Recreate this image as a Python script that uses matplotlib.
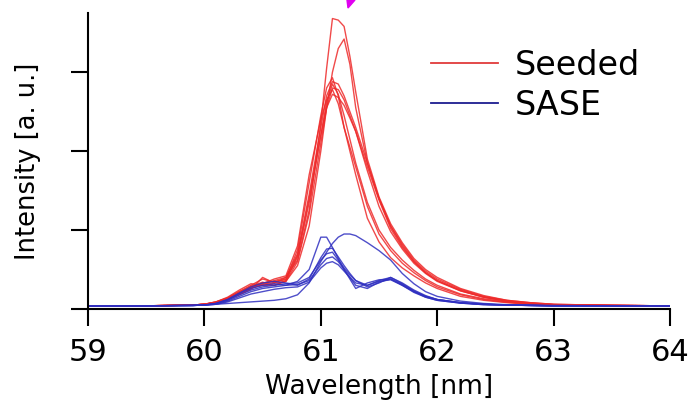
import matplotlib
matplotlib.use("Agg")
import matplotlib.pyplot as plt
from matplotlib.lines import Line2D
from matplotlib.patches import Polygon

# Shared wavelength grid (nm)
wavelength = [59.0, 59.5, 59.9, 60.0, 60.1, 60.2, 60.3, 60.4, 60.5, 60.6, 60.7,
              60.8, 60.9, 61.0, 61.05, 61.1, 61.15, 61.2, 61.25, 61.3, 61.4,
              61.5, 61.6, 61.7, 61.8, 61.9, 62.0, 62.2, 62.4, 62.6, 62.8,
              63.0, 63.5, 64.0]

# Seeded shots (intensity, a.u.)
seeded_1 = [0.04, 0.04, 0.05, 0.06, 0.09, 0.15, 0.24, 0.32, 0.30, 0.33, 0.40,
            0.62, 1.25, 2.35, 3.05, 3.68, 3.66, 3.58, 3.20, 2.75, 1.90,
            1.42, 1.08, 0.84, 0.64, 0.50, 0.40, 0.26, 0.17, 0.11, 0.08,
            0.06, 0.045, 0.04]
seeded_2 = [0.04, 0.04, 0.05, 0.06, 0.08, 0.13, 0.20, 0.27, 0.30, 0.30, 0.35,
            0.55, 1.05, 2.00, 2.55, 3.00, 3.30, 3.42, 3.10, 2.55, 1.85,
            1.40, 1.05, 0.80, 0.60, 0.46, 0.36, 0.23, 0.15, 0.10, 0.07,
            0.055, 0.045, 0.04]
seeded_3 = [0.04, 0.04, 0.05, 0.06, 0.09, 0.14, 0.22, 0.30, 0.38, 0.34, 0.38,
            0.75, 1.60, 2.45, 2.80, 2.93, 2.70, 2.30, 2.00, 1.70, 1.15,
            0.85, 0.65, 0.52, 0.42, 0.33, 0.26, 0.16, 0.11, 0.08, 0.06,
            0.05, 0.045, 0.04]
seeded_4 = [0.04, 0.04, 0.05, 0.06, 0.08, 0.12, 0.19, 0.26, 0.31, 0.36, 0.40,
            0.70, 1.45, 2.30, 2.70, 2.88, 2.85, 2.70, 2.50, 2.30, 1.85,
            1.40, 1.05, 0.82, 0.62, 0.48, 0.38, 0.25, 0.16, 0.11, 0.08,
            0.06, 0.045, 0.04]
seeded_5 = [0.04, 0.04, 0.05, 0.06, 0.08, 0.13, 0.21, 0.29, 0.34, 0.30, 0.36,
            0.66, 1.35, 2.20, 2.62, 2.85, 2.72, 2.45, 2.15, 1.85, 1.35,
            1.00, 0.78, 0.62, 0.49, 0.38, 0.30, 0.19, 0.13, 0.09, 0.065,
            0.05, 0.045, 0.04]
seeded_6 = [0.04, 0.04, 0.05, 0.06, 0.08, 0.12, 0.18, 0.25, 0.40, 0.33, 0.35,
            0.60, 1.20, 2.10, 2.55, 2.80, 2.78, 2.65, 2.45, 2.25, 1.75,
            1.30, 0.98, 0.76, 0.58, 0.45, 0.35, 0.23, 0.15, 0.10, 0.07,
            0.055, 0.045, 0.04]
seeded_7 = [0.04, 0.04, 0.05, 0.06, 0.09, 0.14, 0.22, 0.28, 0.32, 0.38, 0.42,
            0.80, 1.70, 2.40, 2.65, 2.78, 2.60, 2.30, 2.05, 1.80, 1.30,
            0.95, 0.74, 0.58, 0.46, 0.36, 0.28, 0.18, 0.12, 0.085, 0.065,
            0.05, 0.045, 0.04]
seeded_8 = [0.04, 0.04, 0.05, 0.06, 0.08, 0.12, 0.19, 0.27, 0.33, 0.35, 0.37,
            0.68, 1.40, 2.20, 2.55, 2.72, 2.68, 2.58, 2.42, 2.25, 1.80,
            1.38, 1.02, 0.78, 0.60, 0.46, 0.36, 0.24, 0.15, 0.10, 0.075,
            0.055, 0.045, 0.04]

# SASE shots (intensity, a.u.)
sase_1 = [0.04, 0.04, 0.045, 0.05, 0.07, 0.12, 0.20, 0.26, 0.30, 0.32, 0.30,
          0.35, 0.50, 0.91, 0.91, 0.78, 0.64, 0.50, 0.38, 0.26, 0.33,
          0.37, 0.38, 0.30, 0.22, 0.16, 0.12, 0.08, 0.06, 0.05, 0.045,
          0.04, 0.04, 0.04]
sase_2 = [0.04, 0.04, 0.045, 0.05, 0.06, 0.07, 0.08, 0.09, 0.10, 0.11, 0.13,
          0.18, 0.33, 0.60, 0.72, 0.83, 0.91, 0.95, 0.95, 0.93, 0.84,
          0.74, 0.62, 0.45, 0.32, 0.22, 0.16, 0.10, 0.07, 0.055, 0.05,
          0.045, 0.04, 0.04]
sase_3 = [0.04, 0.04, 0.045, 0.05, 0.07, 0.12, 0.20, 0.28, 0.33, 0.35, 0.33,
          0.30, 0.38, 0.65, 0.76, 0.77, 0.66, 0.55, 0.45, 0.36, 0.28,
          0.33, 0.40, 0.33, 0.24, 0.17, 0.12, 0.08, 0.06, 0.05, 0.045,
          0.04, 0.04, 0.04]
sase_4 = [0.04, 0.04, 0.045, 0.05, 0.07, 0.11, 0.18, 0.24, 0.28, 0.30, 0.32,
          0.33, 0.40, 0.62, 0.70, 0.72, 0.62, 0.52, 0.43, 0.36, 0.30,
          0.36, 0.40, 0.32, 0.23, 0.16, 0.12, 0.08, 0.06, 0.05, 0.045,
          0.04, 0.04, 0.04]
sase_5 = [0.04, 0.04, 0.045, 0.05, 0.06, 0.10, 0.16, 0.22, 0.26, 0.28, 0.30,
          0.31, 0.36, 0.56, 0.64, 0.66, 0.60, 0.50, 0.40, 0.30, 0.26,
          0.34, 0.38, 0.31, 0.22, 0.15, 0.11, 0.075, 0.055, 0.05, 0.045,
          0.04, 0.04, 0.04]
sase_6 = [0.04, 0.04, 0.045, 0.05, 0.06, 0.09, 0.14, 0.19, 0.22, 0.25, 0.27,
          0.28, 0.34, 0.52, 0.58, 0.60, 0.56, 0.48, 0.40, 0.33, 0.30,
          0.35, 0.37, 0.30, 0.21, 0.15, 0.11, 0.075, 0.055, 0.05, 0.045,
          0.04, 0.04, 0.04]

seeded_shots = [seeded_1, seeded_2, seeded_3, seeded_4, seeded_5, seeded_6,
                seeded_7, seeded_8]
sase_shots = [sase_1, sase_2, sase_3, sase_4, sase_5, sase_6]

x_ticks = [59, 60, 61, 62, 63, 64]
y_ticks = [0, 1, 2, 3]

W, H = 688, 408
fig = plt.figure(figsize=(W / 100, H / 100), dpi=100)
ax = fig.add_axes([88 / W, (H - 309) / H, (670 - 88) / W, (309 - 13) / H])

red = "#ee2a2a"
blue = "#2f2fc0"
for shot in seeded_shots:
    ax.plot(wavelength, shot, color=red, lw=1.0, alpha=0.85)
for shot in sase_shots:
    ax.plot(wavelength, shot, color=blue, lw=1.0, alpha=0.85)

ax.set_xlim(59, 64)
ax.set_ylim(0, 3.75)
ax.set_xticks(x_ticks)
ax.set_xticklabels([str(t) for t in x_ticks])
ax.set_yticks(y_ticks)
ax.set_yticklabels([])
for side in ("top", "right"):
    ax.spines[side].set_visible(False)
for side in ("left", "bottom"):
    ax.spines[side].set_linewidth(1.5)
ax.tick_params(axis="x", direction="out", length=12, width=1.5,
               labelsize=22, pad=9)
ax.tick_params(axis="y", direction="out", length=12, width=1.5)

ax.set_xlabel("Wavelength [nm]", fontsize=19, labelpad=5)
ax.set_ylabel("Intensity [a. u.]", fontsize=18.5, labelpad=18)

handles = [Line2D([], [], color="#e03a3a", lw=1.3),
           Line2D([], [], color="#1c1c90", lw=1.3)]
ax.legend(handles, ["Seeded", "SASE"], loc="upper left",
          bbox_to_anchor=(431 / W, 1 - 49 / H), bbox_transform=fig.transFigure,
          frameon=False, fontsize=24, handlelength=2.0, handletextpad=0.5,
          labelspacing=0.2, borderpad=0, borderaxespad=0)

# small magenta arrowhead at the top edge
fig.patches.append(Polygon([[347 / W, 1.0], [355 / W, 1.0], [348 / W, 1 - 8 / H]],
                           closed=True, color="#e000f0",
                           transform=fig.transFigure, figure=fig))

fig.savefig("out.png", dpi=100)
